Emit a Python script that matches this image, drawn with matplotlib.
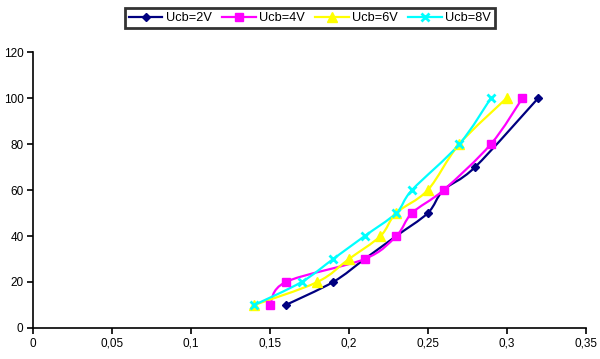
import matplotlib
matplotlib.use("Agg")
import matplotlib.pyplot as plt
import numpy as np
from matplotlib.path import Path
from matplotlib.patches import PathPatch
from matplotlib.ticker import FuncFormatter

plt.rcParams['font.family'] = ['Liberation Sans', 'DejaVu Sans']

# data
x_2v = [0.16, 0.19, 0.21, 0.23, 0.25, 0.26, 0.28, 0.32]
y_2v = [10, 20, 30, 40, 50, 60, 70, 100]
x_4v = [0.15, 0.16, 0.21, 0.23, 0.24, 0.26, 0.29, 0.31]
y_4v = [10, 20, 30, 40, 50, 60, 80, 100]
x_6v = [0.14, 0.18, 0.20, 0.22, 0.23, 0.25, 0.27, 0.30]
y_6v = [10, 20, 30, 40, 50, 60, 80, 100]
x_8v = [0.14, 0.17, 0.19, 0.21, 0.23, 0.24, 0.27, 0.29]
y_8v = [10, 20, 30, 40, 50, 60, 80, 100]

labels = ["Ucb=2V", "Ucb=4V", "Ucb=6V", "Ucb=8V"]


def smooth_path(ax, xs, ys, color):
    # Excel-like smoothed line: Catmull-Rom segments drawn as cubic Bezier in display space
    pts = ax.transData.transform(np.column_stack([xs, ys]))
    verts = [pts[0]]
    codes = [Path.MOVETO]
    n = len(pts)
    for i in range(n - 1):
        p0 = pts[i - 1] if i > 0 else pts[i]
        p1 = pts[i]
        p2 = pts[i + 1]
        p3 = pts[i + 2] if i + 2 < n else pts[i + 1]
        c1 = p1 + (p2 - p0) / 6.0
        c2 = p2 - (p3 - p1) / 6.0
        verts += [c1, c2, p2]
        codes += [Path.CURVE4] * 3
    patch = PathPatch(Path(verts, codes), facecolor='none', edgecolor=color,
                      lw=1.6, transform=None, zorder=2)
    ax.add_artist(patch)


fig = plt.figure(figsize=(6.0, 3.59), dpi=100)
ax = fig.add_axes([0.0555, 0.0864, 0.9205, 0.7686])
ax.set_xlim(0, 0.35)
ax.set_ylim(0, 120)

series = [
    (x_2v, y_2v, '#000080', 'D', 4.5),
    (x_4v, y_4v, '#FF00FF', 's', 6),
    (x_6v, y_6v, '#FFFF00', '^', 6.5),
    (x_8v, y_8v, '#00FFFF', 'x', 6),
]

fig.canvas.draw()
handles = []
for (xs, ys, c, m, ms), lab in zip(series, labels):
    smooth_path(ax, xs, ys, c)
    ax.plot(xs, ys, linestyle='none', marker=m, markersize=ms, color=c,
            markeredgecolor=c, markeredgewidth=2 if m == 'x' else 1,
            zorder=3)
    handles.append(plt.Line2D([], [], color=c, lw=1.6, marker=m, markersize=ms,
                              markeredgewidth=2 if m == 'x' else 1, label=lab))

ax.set_xticks(np.arange(0, 0.351, 0.05))
ax.set_yticks(np.arange(0, 121, 20))
ax.xaxis.set_major_formatter(FuncFormatter(lambda v, p: ('%g' % round(v, 2)).replace('.', ',')))
ax.tick_params(direction='out', length=4, width=1.2, labelsize=8.5, pad=3)
for s in ['top', 'right']:
    ax.spines[s].set_visible(False)
for s in ['left', 'bottom']:
    ax.spines[s].set_linewidth(1.2)

leg = fig.legend(handles=handles, loc='upper center', bbox_to_anchor=(0.517, 0.995),
                 ncol=4, fontsize=9.2, frameon=True, fancybox=False, edgecolor='black',
                 handlelength=2.6, handletextpad=0.3, columnspacing=0.8,
                 borderpad=0.3)
leg.get_frame().set_linewidth(2)

fig.savefig("out.png", dpi=100)
